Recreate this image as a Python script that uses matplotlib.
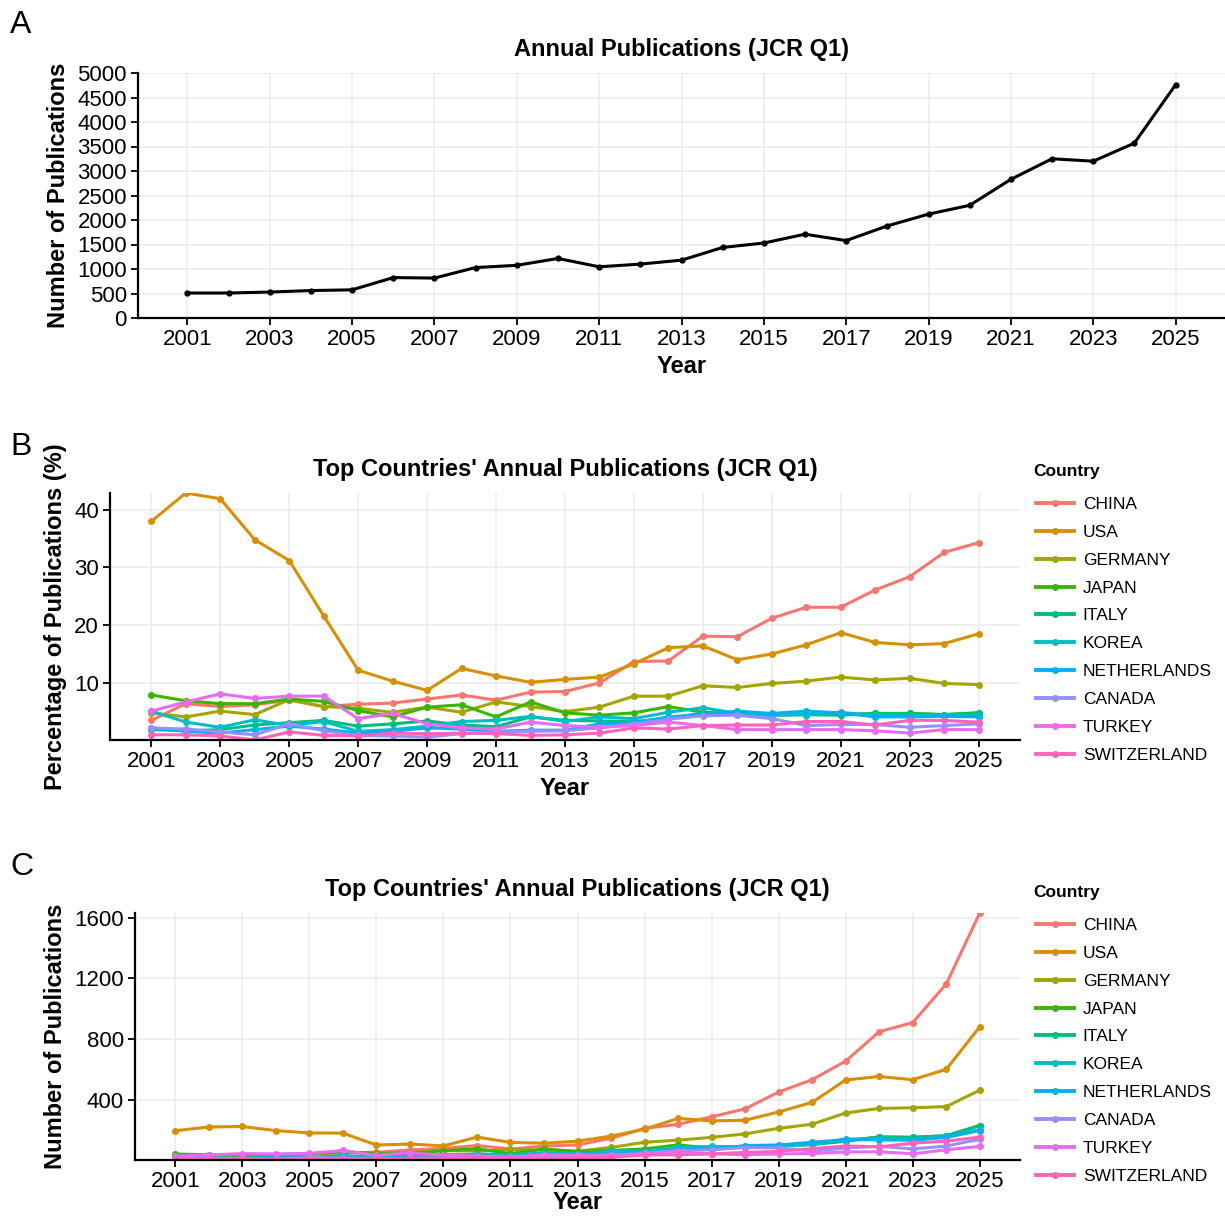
import numpy as np
import matplotlib
matplotlib.use("Agg")
import matplotlib.pyplot as plt
from matplotlib.lines import Line2D

plt.rcParams['font.family'] = ['Liberation Sans', 'DejaVu Sans']

years = list(range(2001, 2026))

# total JCR Q1 publications per year (panel A)
total_pubs = [510, 510, 530, 560, 575, 825, 815, 1030, 1075, 1215, 1045, 1100, 1180,
              1440, 1530, 1710, 1580, 1880, 2120, 2300, 2830, 3250, 3200, 3570, 4760]

countries = ['CHINA', 'USA', 'GERMANY', 'JAPAN', 'ITALY', 'KOREA',
             'NETHERLANDS', 'CANADA', 'TURKEY', 'SWITZERLAND']
colors = ['#F8766D', '#D89000', '#A3A500', '#39B600', '#00BF7D', '#00BFC4',
          '#00B0F6', '#9590FF', '#E76BF3', '#FF62BC']

# share of the year's publications, in percent (panel B)
pct_china = [3.5, 6.4, 5.9, 6.2, 7.0, 5.9, 6.3, 6.5, 7.2, 7.9, 7.0, 8.4, 8.5,
             10.0, 13.7, 13.8, 18.1, 18.0, 21.2, 23.1, 23.1, 26.1, 28.4, 32.6, 34.3]
pct_usa = [38.0, 42.9, 41.9, 34.8, 31.2, 21.6, 12.2, 10.3, 8.7, 12.5, 11.2, 10.1, 10.6,
           11.0, 13.3, 16.1, 16.4, 14.0, 15.0, 16.6, 18.7, 17.0, 16.6, 16.8, 18.5]
pct_germany = [4.8, 4.1, 5.1, 4.5, 7.1, 5.9, 5.6, 4.9, 5.8, 4.9, 6.7, 5.9, 5.0,
               5.8, 7.7, 7.7, 9.5, 9.2, 9.9, 10.3, 11.0, 10.5, 10.8, 9.9, 9.7]
pct_japan = [7.9, 6.9, 6.4, 6.4, 7.2, 6.8, 5.2, 4.1, 5.8, 6.2, 4.1, 6.7, 4.8,
             4.4, 4.8, 5.9, 4.9, 4.7, 4.5, 4.5, 4.5, 4.7, 4.7, 4.5, 4.8]
pct_italy = [1.9, 1.7, 1.9, 2.7, 3.1, 3.5, 2.5, 2.9, 3.4, 2.7, 2.4, 4.1, 3.5,
             3.4, 3.3, 3.8, 4.8, 4.5, 4.4, 4.5, 4.4, 4.7, 4.7, 4.5, 4.8]
pct_korea = [5.1, 3.2, 2.3, 3.6, 2.6, 3.3, 1.6, 1.9, 2.5, 3.3, 3.5, 4.2, 3.3,
             4.1, 3.8, 4.9, 5.7, 4.7, 4.4, 4.5, 4.9, 4.3, 4.2, 4.4, 4.2]
pct_netherlands = [2.2, 1.6, 1.3, 1.9, 2.5, 2.0, 1.3, 1.6, 2.2, 2.0, 1.6, 1.8, 1.8,
                   2.9, 3.1, 4.1, 4.5, 5.1, 4.7, 5.1, 4.8, 4.1, 4.1, 4.2, 4.1]
pct_canada = [2.2, 2.0, 1.5, 1.0, 2.9, 1.7, 0.9, 0.8, 0.6, 1.2, 1.5, 1.6, 1.7,
              2.2, 2.9, 3.7, 4.3, 4.4, 3.8, 2.6, 2.8, 2.8, 2.3, 2.6, 2.9]
pct_turkey = [5.1, 6.7, 8.1, 7.3, 7.7, 7.7, 3.8, 4.7, 2.9, 2.2, 2.0, 3.2, 2.6,
              2.3, 2.6, 3.2, 2.6, 1.9, 1.9, 1.9, 1.9, 1.7, 1.3, 1.9, 1.9]
pct_switzerland = [1.0, 1.0, 0.8, 0.1, 1.5, 0.9, 0.8, 1.3, 1.2, 1.3, 1.2, 0.9, 1.0,
                   1.3, 2.2, 2.0, 2.6, 2.7, 2.7, 3.3, 3.3, 2.7, 3.5, 3.5, 3.2]

pct_all = [pct_china, pct_usa, pct_germany, pct_japan, pct_italy, pct_korea,
           pct_netherlands, pct_canada, pct_turkey, pct_switzerland]

# counts per country (panel C) follow from the shares and the yearly totals
counts_all = [np.array(p) * np.array(total_pubs) / 100 for p in pct_all]

xticks = list(range(2001, 2026, 2))
xlim = (1999.8, 2026.2)

grid_col = '#EBEBEB'
tick_fs = 16
lab_fs = 17
title_fs = 17


def style_axes(ax):
    for s in ['top', 'right']:
        ax.spines[s].set_visible(False)
    for s in ['left', 'bottom']:
        ax.spines[s].set_linewidth(1.6)
        ax.spines[s].set_color('black')
    ax.grid(True, color=grid_col, linewidth=1.1)
    ax.set_axisbelow(True)
    ax.tick_params(axis='both', direction='out', length=5, width=1.3,
                   labelsize=tick_fs, colors='black', pad=3)
    ax.set_xticks(xticks)
    ax.set_xlim(*xlim)
    ax.set_xlabel('Year', fontsize=lab_fs, fontweight='bold', labelpad=3.5)


fig = plt.figure(figsize=(12.25, 12.16), dpi=100)
W, H = 1225, 1216


def add_ax(left, top, right, bottom):
    return fig.add_axes([left / W, 1 - bottom / H, (right - left) / W, (bottom - top) / H])


# panel A
axA = add_ax(138, 73, 1225, 318)
axA.plot(years, total_pubs, color='black', linewidth=2.2, marker='o', markersize=3.5)
axA.set_ylim(0, 5000)
axA.set_yticks(range(0, 5001, 500))
style_axes(axA)
axA.set_ylabel('Number of Publications', fontsize=lab_fs, fontweight='bold', labelpad=5)
axA.set_title('Annual Publications (JCR Q1)', fontsize=title_fs, fontweight='bold', pad=12)

# panel B
axB = add_ax(110, 493, 1020, 740)
for name, col, p in zip(countries, colors, pct_all):
    axB.plot(years, p, color=col, linewidth=2.2, marker='o', markersize=4, label=name)
pmin = min(min(p) for p in pct_all)
pmax = max(max(p) for p in pct_all)
axB.set_ylim(pmin, pmax)
axB.set_yticks([10, 20, 30, 40])
style_axes(axB)
axB.set_ylabel('Percentage of Publications (%)', fontsize=lab_fs, fontweight='bold', labelpad=5)
axB.set_title("Top Countries' Annual Publications (JCR Q1)", fontsize=title_fs,
              fontweight='bold', pad=12)

# panel C
axC = add_ax(135, 913, 1020, 1160)
for name, col, c in zip(countries, colors, counts_all):
    axC.plot(years, c, color=col, linewidth=2.2, marker='o', markersize=4, label=name)
cmin = min(c.min() for c in counts_all)
cmax = max(c.max() for c in counts_all)
axC.set_ylim(cmin, cmax)
axC.set_yticks([400, 800, 1200, 1600])
style_axes(axC)
axC.xaxis.labelpad = -1
axC.set_ylabel('Number of Publications', fontsize=lab_fs, fontweight='bold', labelpad=5)
axC.set_title("Top Countries' Annual Publications (JCR Q1)", fontsize=title_fs,
              fontweight='bold', pad=12)

for ax, y_title in [(axB, 472), (axC, 893)]:
    handles = [Line2D([], [], color=col, linewidth=2.8, marker='o', markersize=4)
               for col in colors]
    fig.text(1033 / W, 1 - y_title / H, 'Country', fontsize=12.5, fontweight='bold',
             ha='left', va='center')
    fig.legend(handles, countries, loc='upper left',
               bbox_to_anchor=(1036 / W, 1 - (y_title + 25) / H),
               frameon=False, fontsize=12.5,
               handlelength=2.2, labelspacing=0.73, handletextpad=0.5,
               borderaxespad=0, borderpad=0)

for letter, y in [('A', 25), ('B', 447), ('C', 867)]:
    fig.text(10 / W, 1 - y / H, letter, fontsize=23, ha='left', va='center')

fig.savefig('out.png', dpi=100)
